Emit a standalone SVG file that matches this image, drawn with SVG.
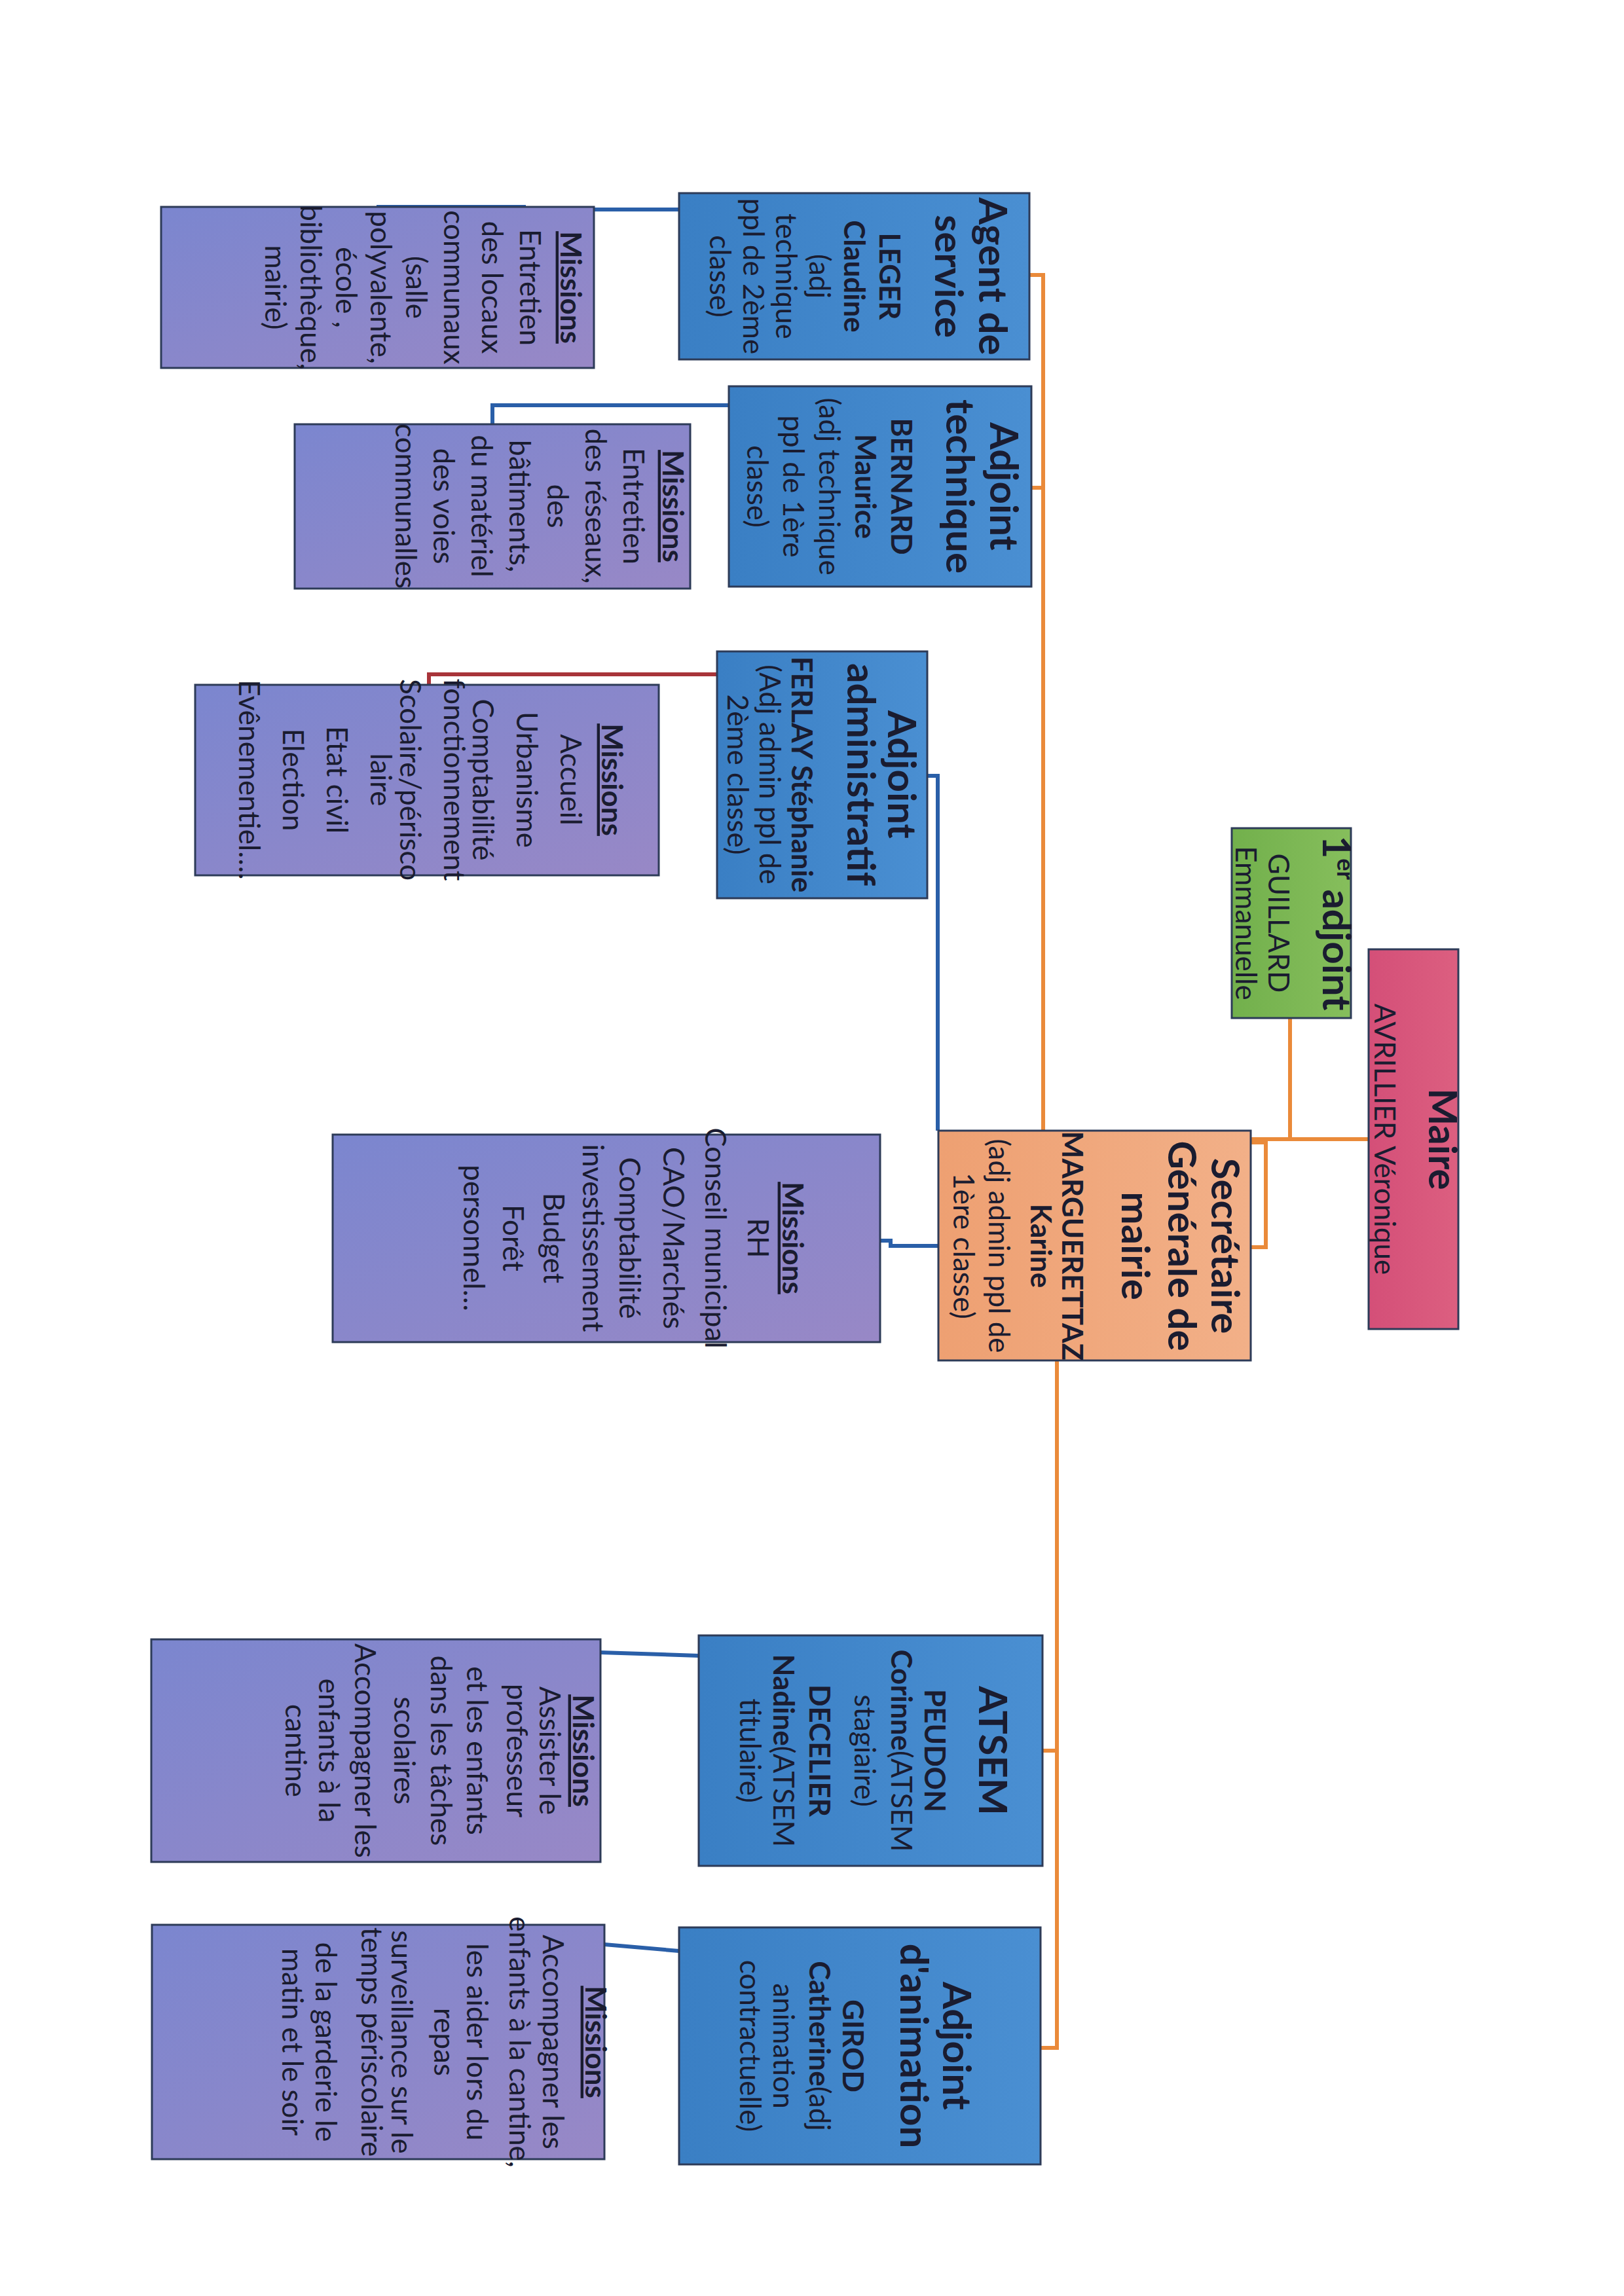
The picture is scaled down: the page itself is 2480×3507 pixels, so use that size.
<svg xmlns="http://www.w3.org/2000/svg" width="2480" height="3507" viewBox="0 0 2480 3507">
<defs>
<linearGradient id="gb" x1="0" y1="0" x2="1" y2="0"><stop offset="0" stop-color="#3a7fc4"/><stop offset="1" stop-color="#4a8fd2"/></linearGradient>
<linearGradient id="gm" x1="0" y1="0" x2="1" y2="1"><stop offset="0" stop-color="#7b86cf"/><stop offset="1" stop-color="#9888c6"/></linearGradient>
<linearGradient id="go" x1="0" y1="0" x2="1" y2="0"><stop offset="0" stop-color="#eea072"/><stop offset="1" stop-color="#f2b088"/></linearGradient>
<linearGradient id="gr" x1="0" y1="0" x2="1" y2="0"><stop offset="0" stop-color="#d44f78"/><stop offset="1" stop-color="#dc5f80"/></linearGradient>
<linearGradient id="gg" x1="0" y1="0" x2="1" y2="0"><stop offset="0" stop-color="#72b04c"/><stop offset="1" stop-color="#86be5c"/></linearGradient>
</defs>
<style>
rect{stroke:#2d3b58;stroke-width:3}
.b{fill:url(#gb)}.m{fill:url(#gm)}.o{fill:url(#go)}.r{fill:url(#gr)}.g{fill:url(#gg)}
text{font-family:Lato,"Open Sans","Liberation Sans",sans-serif;fill:#1a1c30;text-anchor:middle}
.t{font-size:60px;font-weight:bold}
.n{font-size:44px;font-weight:bold}
.p{font-size:44px}
.h{font-size:44px;font-weight:bold;text-decoration:underline}
.c{fill:none;stroke-width:6}
.co{stroke:#ea8a3a}.cb{stroke:#2a5fa8}.cr{stroke:#a8343a}
</style>
<rect width="2480" height="3507" fill="#fff" style="stroke:none"/>
<g id="connectors">
<path class="c co" d="M1572 420H1593V1727M1575 745H1593M1910 1740H2090M1970 1555V1740M1910 1745H1933V1905H1910M1614 2078V3128H1589M1592 2674H1614"/>
<path class="c cb" d="M1433 1903H1360V1895H1344M1416 1185H1432V1727M1037 320H800V316H575M1113 619H752V648M917 2524L1067 2529M923 2970L1037 2980"/>
<path class="c cr" d="M1095 1030H655V1046"/>
</g>
<g id="maire"><rect class="r" x="2090" y="1450" width="137" height="580"/>
<g transform="translate(2158,1740) rotate(90)"><text class="t" y="-24">Maire</text><text class="p" y="59">AVRILLIER Véronique</text></g></g>
<g id="adjoint1"><rect class="g" x="1881" y="1265" width="182" height="290"/>
<g transform="translate(1972,1410) rotate(90)"><text class="t" y="-48">1<tspan font-size="36" dy="-22">er</tspan><tspan dy="22"> adjoint</tspan></text><text class="p" y="35">GUILLARD</text><text class="p" y="85">Emmanuelle</text></g></g>
<g id="sg"><rect class="o" x="1433" y="1727" width="477" height="351"/>
<g transform="translate(1672,1903) rotate(90)"><text class="t" y="-178">Secrétaire</text><text class="t" y="-112">Générale de</text><text class="t" y="-41">mairie</text><text class="n" y="50">MARGUERETTAZ</text><text class="n" y="98">Karine</text><text class="p" y="162">(adj admin ppl de</text><text class="p" y="216">1ère classe)</text></g></g>
<g id="missions-sg"><rect class="m" x="508" y="1733" width="836" height="317"/>
<g transform="translate(926,1891) rotate(90)"><text class="h" y="-269">Missions</text><text class="p" y="-216">RH</text><text class="p" y="-151">Conseil municipal</text><text class="p" y="-87">CAO/Marchés</text><text class="p" y="-20">Comptabilité</text><text class="p" y="36">investissement</text><text class="p" y="96">Budget</text><text class="p" y="158">Forêt</text><text class="p" y="218">personnel…</text></g></g>
<g id="agent"><rect class="b" x="1037" y="295" width="535" height="254"/>
<g transform="translate(1305,422) rotate(90)"><text class="t" y="-190">Agent de</text><text class="t" y="-123">service</text><text class="n" y="-38">LEGER</text><text class="n" y="16">Claudine</text><text class="p" y="69">(adj</text><text class="p" y="120">technique</text><text class="p" y="170">ppl de 2ème</text><text class="p" y="221">classe)</text></g></g>
<g id="missions-agent"><rect class="m" x="246" y="316" width="661" height="246"/>
<g transform="translate(577,439) rotate(90)"><text class="h" y="-279">Missions</text><text class="p" y="-217">Entretien</text><text class="p" y="-159">des locaux</text><text class="p" y="-101">communaux</text><text class="p" y="-43">(salle</text><text class="p" y="11">polyvalente,</text><text class="p" y="64">école ,</text><text class="p" y="118">bibliothèque,</text><text class="p" y="172">mairie)</text></g></g>
<g id="technique"><rect class="b" x="1113" y="590" width="462" height="306"/>
<g transform="translate(1344,743) rotate(90)"><text class="t" y="-168">Adjoint</text><text class="t" y="-101">technique</text><text class="n" y="-17">BERNARD</text><text class="n" y="38">Maurice</text><text class="p" y="93">(adj technique</text><text class="p" y="148">ppl de 1ère</text><text class="p" y="203">classe)</text></g></g>
<g id="missions-technique"><rect class="m" x="450" y="648" width="604" height="251"/>
<g transform="translate(752,773) rotate(90)"><text class="h" y="-260">Missions</text><text class="p" y="-200">Entretien</text><text class="p" y="-142">des réseaux,</text><text class="p" y="-84">des</text><text class="p" y="-26">bâtiments,</text><text class="p" y="32">du matériel</text><text class="p" y="90">des voies</text><text class="p" y="148">communalles</text></g></g>
<g id="administratif"><rect class="b" x="1095" y="995" width="321" height="377"/>
<g transform="translate(1255,1183) rotate(90)"><text class="t" y="-101">Adjoint</text><text class="t" y="-39">administratif</text><text class="n" y="46">FERLAY Stéphanie</text><text class="p" y="95">(Adj admin ppl de</text><text class="p" y="144">2ème classe)</text></g></g>
<g id="missions-administratif"><rect class="m" x="298" y="1046" width="708" height="291"/>
<g transform="translate(652,1191) rotate(90)"><text class="h" y="-267">Missions</text><text class="p" y="-204">Accueil</text><text class="p" y="-137">Urbanisme</text><text class="p" y="-70">Comptabilité</text><text class="p" y="-26">fonctionnement</text><text class="p" y="41">Scolaire/périsco</text><text class="p" y="86">laire</text><text class="p" y="153">Etat civil</text><text class="p" y="220">Election</text><text class="p" y="287">Evênementiel….</text></g></g>
<g id="atsem"><rect class="b" x="1067" y="2498" width="525" height="352"/>
<g transform="translate(1330,2674) rotate(90)"><text class="t" y="-165">ATSEM</text><text class="n" y="-82">PEUDON</text><text class="n" y="-31">Corinne<tspan font-weight="normal">(ATSEM</tspan></text><text class="p" y="25">stagiaire)</text><text class="n" y="94">DECELIER</text><text class="n" y="149">Nadine<tspan font-weight="normal">(ATSEM</tspan></text><text class="p" y="200">titulaire)</text></g></g>
<g id="missions-atsem"><rect class="m" x="231" y="2504" width="686" height="340"/>
<g transform="translate(574,2674) rotate(90)"><text class="h" y="-301">Missions</text><text class="p" y="-250">Assister le</text><text class="p" y="-200">professeur</text><text class="p" y="-139">et les enfants</text><text class="p" y="-84">dans les tâches</text><text class="p" y="-28">scolaires</text><text class="p" y="32">Accompagner les</text><text class="p" y="87">enfants à la</text><text class="p" y="138">cantine</text></g></g>
<g id="animation"><rect class="b" x="1037" y="2944" width="552" height="362"/>
<g transform="translate(1313,3125) rotate(90)"><text class="t" y="-127">Adjoint</text><text class="t" y="-62">d'animation</text><text class="n" y="26">GIROD</text><text class="n" y="77">Catherine<tspan font-weight="normal">(adj</tspan></text><text class="p" y="132">animation</text><text class="p" y="183">contractuelle)</text></g></g>
<g id="missions-animation"><rect class="m" x="232" y="2940" width="691" height="358"/>
<g transform="translate(577,3119) rotate(90)"><text class="h" y="-317">Missions</text><text class="p" y="-252">Accompagner les</text><text class="p" y="-201">enfants à la cantine,</text><text class="p" y="-136">les aider lors du</text><text class="p" y="-86">repas</text><text class="p" y="-21">surveillance sur le</text><text class="p" y="25">temps périscolaire</text><text class="p" y="95">de la garderie le</text><text class="p" y="146">matin et le soir</text></g></g>
</svg>
